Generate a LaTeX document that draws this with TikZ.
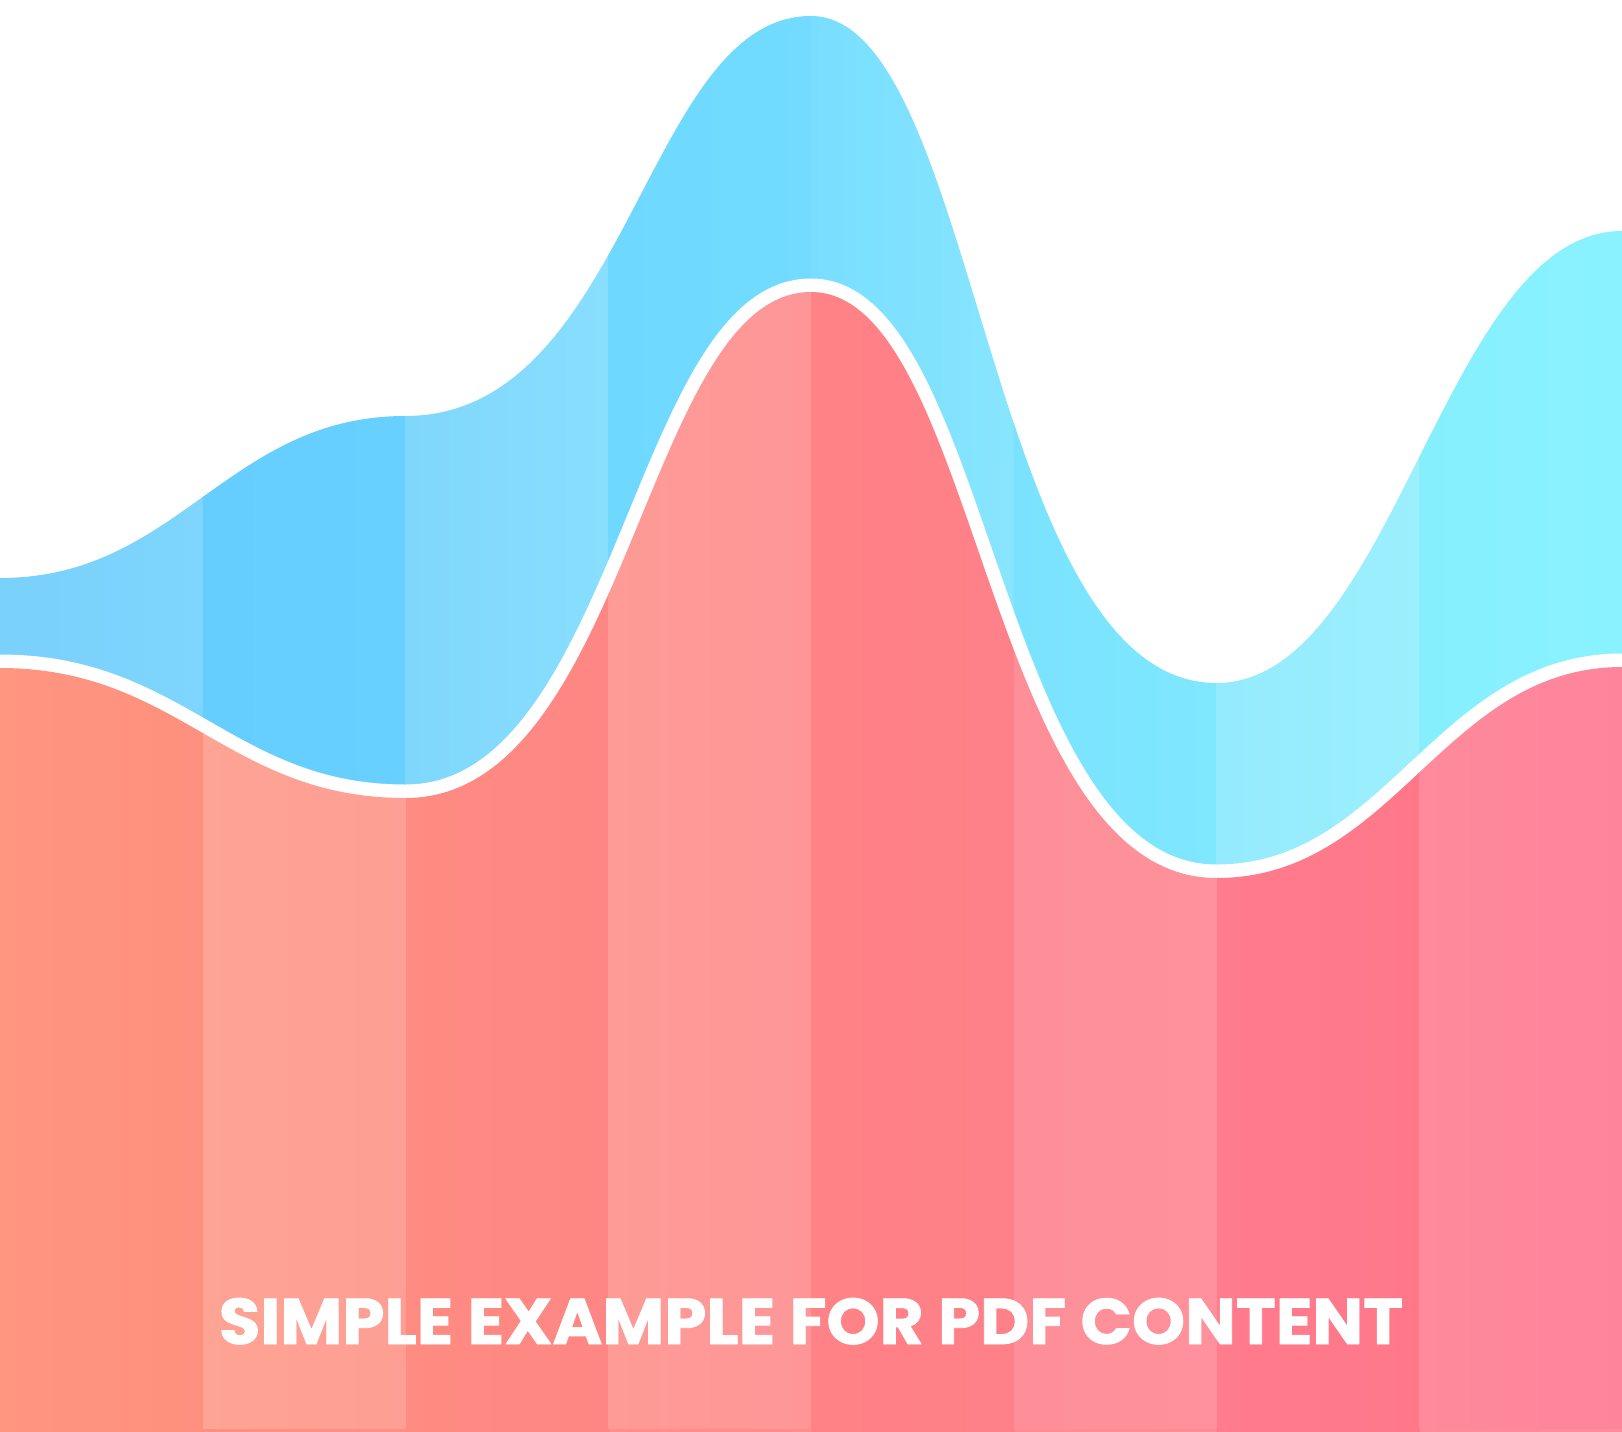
\documentclass[tikz,border=0pt]{standalone}
\usepackage{graphicx}
\usepackage{fontspec}
\setmainfont{Poppins}
% blue bands
\definecolor{bAl}{RGB}{121,209,252}\definecolor{bAr}{RGB}{126,213,253}
\definecolor{bBl}{RGB}{102,206,255}\definecolor{bBr}{RGB}{104,208,255}
\definecolor{bCl}{RGB}{127,215,252}\definecolor{bCr}{RGB}{136,222,253}
\definecolor{bDl}{RGB}{110,216,255}\definecolor{bDr}{RGB}{114,219,255}
\definecolor{bEl}{RGB}{120,222,255}\definecolor{bEr}{RGB}{136,229,254}
\definecolor{bFl}{RGB}{122,226,254}\definecolor{bFr}{RGB}{127,232,255}
\definecolor{bGl}{RGB}{148,235,253}\definecolor{bGr}{RGB}{156,239,253}
\definecolor{bHl}{RGB}{134,239,254}\definecolor{bHr}{RGB}{138,242,255}
% red bands
\definecolor{rAl}{RGB}{255,150,128}\definecolor{rAr}{RGB}{253,144,126}
\definecolor{rBl}{RGB}{254,164,148}\definecolor{rBr}{RGB}{254,158,148}
\definecolor{rCl}{RGB}{254,140,130}\definecolor{rCr}{RGB}{254,134,132}
\definecolor{rDl}{RGB}{254,155,150}\definecolor{rDr}{RGB}{254,150,152}
\definecolor{rEl}{RGB}{255,130,134}\definecolor{rEr}{RGB}{254,128,136}
\definecolor{rFl}{RGB}{254,143,152}\definecolor{rFr}{RGB}{254,145,155}
\definecolor{rGl}{RGB}{255,124,140}\definecolor{rGr}{RGB}{254,120,138}
\definecolor{rHl}{RGB}{254,138,155}\definecolor{rHr}{RGB}{254,132,156}
\begin{document}
\begin{tikzpicture}[x=1bp,y=-1bp]
\useasboundingbox (0,0) rectangle (1622,1432);
\fill[white] (0,0) rectangle (1622,1432);
% blue area
\begin{scope}
\clip (0,578) .. controls (178.4,578) and (227.1,416) .. (405.5,416)
  .. controls (628.5,416) and (644.7,16) .. (811,16)
  .. controls (979.3,16) and (985.4,683) .. (1216.5,683)
  .. controls (1394.9,683) and (1443.6,231) .. (1622,231)
  -- (1622,1432) -- (0,1432) -- cycle;
\shade[left color=bAl,right color=bAr] (0,0) rectangle (203.5,1432);
\shade[left color=bBl,right color=bBr] (202.75,0) rectangle (406.2,1432);
\shade[left color=bCl,right color=bCr] (405.5,0) rectangle (609,1432);
\shade[left color=bDl,right color=bDr] (608.25,0) rectangle (811.7,1432);
\shade[left color=bEl,right color=bEr] (811,0) rectangle (1014.5,1432);
\shade[left color=bFl,right color=bFr] (1013.75,0) rectangle (1217.2,1432);
\shade[left color=bGl,right color=bGr] (1216.5,0) rectangle (1420,1432);
\shade[left color=bHl,right color=bHr] (1419.25,0) rectangle (1622,1432);
\end{scope}
% white rim of the red area
\draw[white,line width=27bp] (0,668) .. controls (178.4,668) and (227.1,798) .. (405.5,798)
  .. controls (628.5,798) and (644.7,292) .. (811,292)
  .. controls (979.3,292) and (985.4,878) .. (1216.5,878)
  .. controls (1394.9,878) and (1443.6,667) .. (1622,667);
% red area
\begin{scope}
\clip (0,668) .. controls (178.4,668) and (227.1,798) .. (405.5,798)
  .. controls (628.5,798) and (644.7,292) .. (811,292)
  .. controls (979.3,292) and (985.4,878) .. (1216.5,878)
  .. controls (1394.9,878) and (1443.6,667) .. (1622,667)
  -- (1622,1432) -- (0,1432) -- cycle;
\shade[left color=rAr,right color=rHl] (0,1420) rectangle (1622,1432);
\shade[left color=rAl,right color=rAr] (0,0) rectangle (203.5,1432);
\shade[left color=rCl,right color=rCr] (405.5,0) rectangle (609,1432);
\shade[left color=rEl,right color=rEr] (811,0) rectangle (1014.5,1432);
\shade[left color=rGl,right color=rGr] (1216.5,0) rectangle (1420,1432);
\shade[left color=rBl,right color=rBr] (202.75,0) rectangle (405.5,1428);
\shade[left color=rDl,right color=rDr] (608.25,0) rectangle (811,1428);
\shade[left color=rFl,right color=rFr] (1013.75,0) rectangle (1216.5,1428);
\shade[left color=rHl,right color=rHr] (1419.25,0) rectangle (1622,1428);
\end{scope}
\node[text=white,anchor=base,inner sep=0pt] (title) at (811,1344)
  {\resizebox{1184bp}{46bp}{\bfseries\addfontfeatures{FakeBold=1.2}SIMPLE EXAMPLE FOR PDF CONTENT}};
\end{tikzpicture}
\end{document}
